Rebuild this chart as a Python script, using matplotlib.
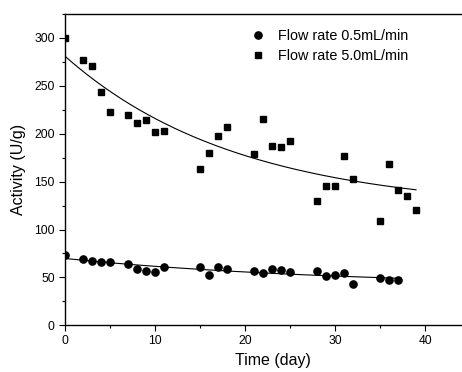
import numpy as np
import matplotlib
matplotlib.use("Agg")
import matplotlib.pyplot as plt
from matplotlib.ticker import MultipleLocator

# Flow rate 0.5 mL/min (circles)
dias_lento = [0, 2, 3, 4, 5, 7, 8, 9, 10, 11, 15, 16, 17, 18, 21, 22, 23, 24, 25,
              28, 29, 30, 31, 32, 35, 36, 37]
ativ_lento = [73, 69.3, 67.5, 66.5, 66.5, 64.4, 58.5, 56.7, 55.4, 60.6, 61.2, 52.6,
              60.6, 58.5, 56.4, 54.3, 59.2, 57.4, 55.4, 56.4, 51.2, 52.2, 54.3, 43.2,
              49.1, 47.3, 47.3]

# Flow rate 5.0 mL/min (squares)
dias_rapido = [0, 2, 3, 4, 5, 7, 8, 9, 10, 11, 15, 16, 17, 18, 21, 22, 23, 24, 25,
               28, 29, 30, 31, 32, 35, 36, 37, 38, 39]
ativ_rapido = [300, 276.5, 271, 244, 223, 219.7, 211, 214, 202, 203, 163, 180, 198,
               207, 179, 215.5, 187, 186.6, 192.6, 130, 145, 145, 176.6, 152.6, 109,
               168.6, 141, 135, 120.5]

rotulos = ["Flow rate 0.5mL/min", "Flow rate 5.0mL/min"]


def ajuste_exp(x, y):
    # y = y0 + A*exp(-x/t), busca em t + minimos quadrados
    x = np.asarray(x, float)
    y = np.asarray(y, float)
    melhor = None
    for t in np.linspace(2, 400, 2000):
        M = np.column_stack([np.ones_like(x), np.exp(-x / t)])
        coef, res, _, _ = np.linalg.lstsq(M, y, rcond=None)
        erro = np.sum((M @ coef - y) ** 2)
        if melhor is None or erro < melhor[0]:
            melhor = (erro, coef, t)
    _, (y0, A), t = melhor
    return lambda xx: y0 + A * np.exp(-xx / t)


plt.rcParams["font.family"] = ["Liberation Sans", "DejaVu Sans"]

fig = plt.figure(figsize=(4.62, 3.72), dpi=100)
ax = fig.add_axes([0.1407, 0.1255, 0.9000, 0.8369])

ax.plot(dias_lento, ativ_lento, "o", color="black", markersize=5.2, label=rotulos[0])
ax.plot(dias_rapido, ativ_rapido, "s", color="black", markersize=4.8, label=rotulos[1])

f_lento = ajuste_exp(dias_lento, ativ_lento)
f_rapido = ajuste_exp(dias_rapido, ativ_rapido)
xl = np.linspace(min(dias_lento), max(dias_lento), 200)
xr = np.linspace(min(dias_rapido), max(dias_rapido), 200)
ax.plot(xl, f_lento(xl), "-", color="black", linewidth=0.8)
ax.plot(xr, f_rapido(xr), "-", color="black", linewidth=0.8)

ax.set_xlim(0, 46.2)
ax.set_ylim(0, 325)
ax.xaxis.set_major_locator(MultipleLocator(10))
ax.xaxis.set_minor_locator(MultipleLocator(5))
ax.yaxis.set_major_locator(MultipleLocator(50))
ax.yaxis.set_minor_locator(MultipleLocator(25))
ax.tick_params(which="major", direction="out", length=4.3, width=0.8, labelsize=8.7, pad=3)
ax.tick_params(which="minor", direction="out", length=2.2, width=0.8)
ax.tick_params(top=False, right=False)
for lado in ["left", "bottom", "top"]:
    ax.spines[lado].set_linewidth(1.0)
ax.spines["right"].set_visible(False)

ax.set_xlabel("Time (day)", fontsize=11.5, labelpad=4)
ax.set_ylabel("Activity (U/g)", fontsize=11.5, labelpad=6)

ax.legend(loc="upper left", bbox_to_anchor=(0.425, 0.98), frameon=False, fontsize=10.4,
          handletextpad=0.9, labelspacing=0.42, handlelength=1.0, borderaxespad=0.2)

fig.savefig("out.png", dpi=100)
